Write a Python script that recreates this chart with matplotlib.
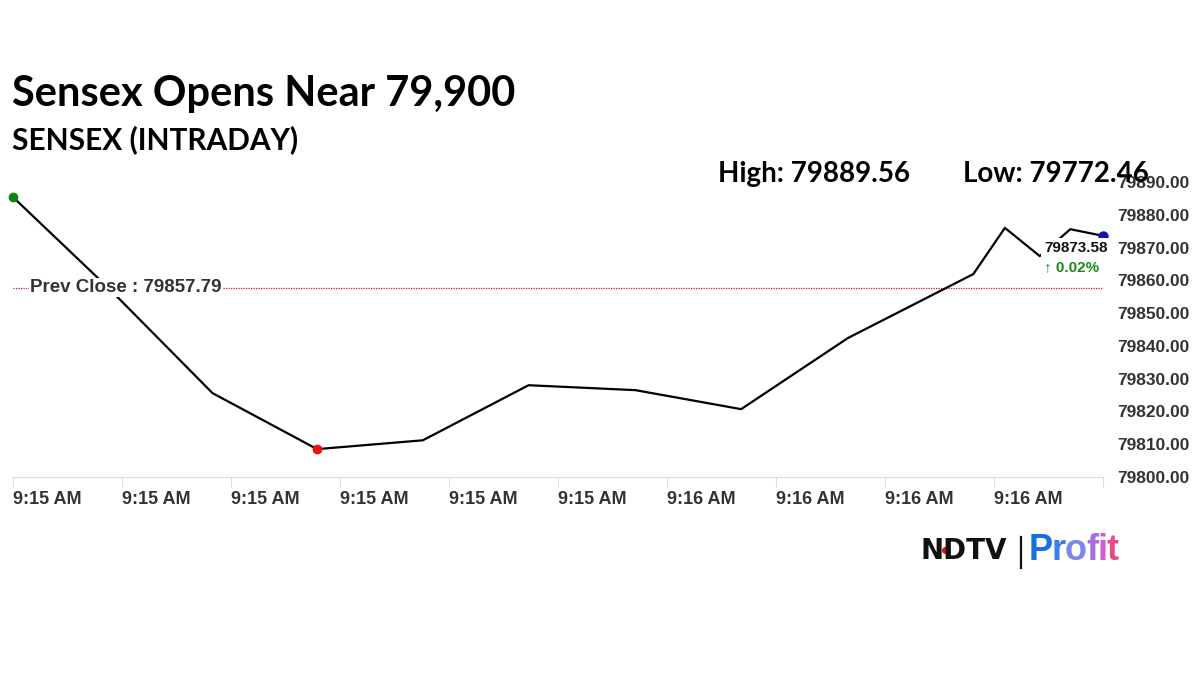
import numpy as np
import matplotlib.pyplot as plt
from matplotlib.lines import Line2D

plt.rcParams['font.family'] = ['Liberation Sans', 'DejaVu Sans']

# 数据
times = [0, 8.9, 18.3, 27.9, 37.6, 47.3, 57.1, 66.8, 76.6, 88.1, 91.0, 94.2, 97.0, 100]
values = [79885.4, 79857.2, 79825.6, 79808.5, 79811.2, 79828.0, 79826.5, 79820.7,
          79842.4, 79861.9, 79876.0, 79867.4, 79875.6, 79873.58]
tick_pos = [0, 10, 20, 30, 40, 50, 60, 70, 80, 90, 100]
tick_labels = ['9:15 AM'] * 6 + ['9:16 AM'] * 4 + ['']
y_ticks = [79800, 79810, 79820, 79830, 79840, 79850, 79860, 79870, 79880, 79890]
prev_close = 79857.79
day_high = 79889.56
day_low = 79772.46

W, H = 1200, 675
fig = plt.figure(figsize=(12, 6.75), dpi=100)
ax = fig.add_axes([13 / W, 1 - 477 / H, (1103 - 13) / W, (477 - 182) / H])
ax.set_xlim(0, 100)
ax.set_ylim(79800, 79890)

ax.plot(times, values, color='black', lw=1.6, zorder=3)
i_min = int(np.argmin(values))
ax.scatter([times[0]], [values[0]], s=36, color='#0a850a', zorder=4, clip_on=False)
ax.scatter([times[i_min]], [values[i_min]], s=36, color='#ee1111', zorder=4, clip_on=False)
ax.scatter([times[-1]], [values[-1]], s=42, color='#1414a8', zorder=4, clip_on=False)

# 昨收线
ax.axhline(prev_close, color='#d02020', lw=0.9, ls=(0, (1, 1)), zorder=2)
ax.annotate(f'Prev Close : {prev_close:.2f}', xy=(times[0], prev_close),
            xytext=(17, 0), textcoords='offset pixels', va='center', ha='left',
            fontsize=13.5, fontweight='bold', color='#333333', zorder=5,
            bbox=dict(facecolor='white', edgecolor='none', pad=1))

# 最新价标签
chg = (values[-1] - prev_close) / prev_close * 100
ax.annotate(f'{values[-1]:.2f}', xy=(times[-1], values[-1]),
            xytext=(-59, -12), textcoords='offset pixels', va='center', ha='left',
            fontsize=11, fontweight='bold', color='#111111', zorder=6,
            bbox=dict(facecolor='white', edgecolor='none', pad=2))
ax.annotate(f'↑ {chg:.2f}%', xy=(times[-1], values[-1]),
            xytext=(-59, -31), textcoords='offset pixels', va='center', ha='left',
            fontsize=11, fontweight='bold', color='#1a8a1a', zorder=6,
            bbox=dict(facecolor='white', edgecolor='none', pad=1))

# 坐标轴
for s in ['top', 'left', 'right']:
    ax.spines[s].set_visible(False)
ax.spines['bottom'].set_color('#dddddd')
ax.set_xticks(tick_pos)
ax.set_xticklabels(tick_labels)
for lab in ax.get_xticklabels():
    lab.set_ha('left')
ax.tick_params(axis='x', length=7, color='#dddddd', labelsize=13, labelcolor='#333333', pad=3)
ax.yaxis.tick_right()
ax.set_yticks(y_ticks)
ax.set_yticklabels([f'{v:.2f}' for v in y_ticks])
ax.tick_params(axis='y', length=0, labelsize=12.5, labelcolor='#333333', pad=10)
for lab in ax.get_xticklabels() + ax.get_yticklabels():
    lab.set_fontweight('bold')

# 标题
fig.text(12 / W, 1 - 106 / H, 'Sensex Opens Near 79,900', fontsize=30, fontweight='bold',
         family='Lato', color='black', va='baseline')
fig.text(12 / W, 1 - 149 / H, 'SENSEX (INTRADAY)', fontsize=21.5, fontweight='bold',
         family='Lato', color='black', va='baseline')
fig.text(718 / W, 1 - 174 / H, f'High: {day_high:.2f}', fontsize=20, fontweight='bold',
         family='Lato', color='black', va='center')
fig.text(963 / W, 1 - 174 / H, f'Low: {day_low:.2f}', fontsize=20, fontweight='bold',
         family='Lato', color='black', va='center')

# 标志
ly = 1 - 551 / H
fig.text(920 / W, ly, 'NDTV', fontsize=20, fontweight='heavy', color='#111111',
         family='DejaVu Sans', va='center')
fig.add_artist(Line2D([945 / W], [1 - 550 / H], marker='o', ms=4, color='#e01010',
                      transform=fig.transFigure))
fig.add_artist(Line2D([1021 / W] * 2, [1 - 537 / H, 1 - 568 / H], color='#111111', lw=1.6,
                      transform=fig.transFigure))
renderer = fig.canvas.get_renderer()
px = 1029
for ch, col in zip('Profit', ['#1a6fe0', '#3d7fe6', '#7a86ea', '#a66ee6', '#d45ad4', '#ea4a8c']):
    t = fig.text(px / W, ly, ch, fontsize=26, fontweight='bold', color=col, va='center')
    px += t.get_window_extent(renderer).width - 1

fig.savefig('out.png', dpi=100, facecolor='white')
